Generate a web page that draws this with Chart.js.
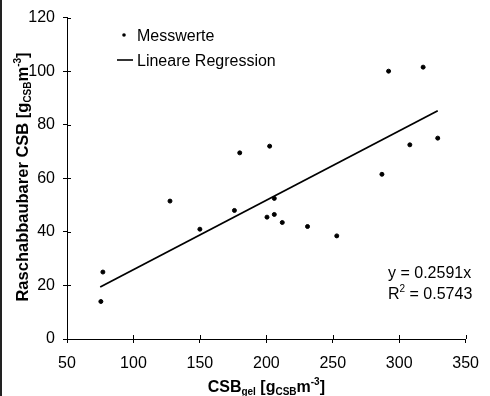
<!DOCTYPE html>
<html>
<head>
<meta charset="utf-8">
<script src="https://cdn.jsdelivr.net/npm/chart.js@4.4.1/dist/chart.umd.min.js"></script>
<style>
html,body{margin:0;padding:0;background:#fff;}
#wrap{position:relative;width:490px;height:396px;}
#c{position:absolute;left:0;top:0;}
#edge{position:absolute;left:0;top:0;width:2px;height:396px;background:#222;}
</style>
</head>
<body>
<div id="wrap"><canvas id="c" width="490" height="396"></canvas><div id="edge"></div></div>
<script>
// Data
const measX = [75.5, 77, 127.5, 150, 176, 180, 200.5, 202.5, 206, 206, 212, 231, 253, 287, 292, 308, 318, 329];
const measY = [14, 25, 51.5, 41, 48, 69.5, 45.5, 72, 46.5, 52.5, 43.5, 42, 38.5, 61.5, 100, 72.5, 101.5, 75];
const regX = [75, 329];
const regY = [19.4, 85.2];
const xTicks = [50, 100, 150, 200, 250, 300, 350];
const yTicks = [0, 20, 40, 60, 80, 100, 120];
const legendLabels = ['Messwerte', 'Lineare Regression'];
const equationLines = ['y = 0.2591x', 'R', '2', ' = 0.5743'];

const FONT = '"Liberation Sans", Arial, Helvetica, sans-serif';

function richWidth(ctx, segs, base, small, bold) {
  let w = 0;
  for (const s of segs) {
    ctx.font = (bold ? 'bold ' : '') + (s.k ? small : base) + 'px ' + FONT;
    w += ctx.measureText(s.t).width;
  }
  return w;
}
function drawRich(ctx, segs, x, y, base, small, bold) {
  let cx = x;
  for (const s of segs) {
    ctx.font = (bold ? 'bold ' : '') + (s.k ? small : base) + 'px ' + FONT;
    let dy = 0;
    if (s.k === 'sub') dy = 3;
    if (s.k === 'sup') dy = -7;
    ctx.fillText(s.t, cx, y + dy);
    cx += ctx.measureText(s.t).width;
  }
}

const overlay = {
  id: 'overlay',
  afterDraw(chart) {
    const ctx = chart.ctx;
    const xs = chart.scales.x, ys = chart.scales.y;
    const ca = chart.chartArea;
    ctx.save();
    ctx.strokeStyle = '#000';
    ctx.lineWidth = 1;
    // inner tick halves
    ctx.beginPath();
    xTicks.forEach(v => {
      const px = Math.round(xs.getPixelForValue(v)) + 0.5;
      ctx.moveTo(px, ca.bottom); ctx.lineTo(px, ca.bottom - 4);
    });
    yTicks.forEach(v => {
      const py = Math.round(ys.getPixelForValue(v)) + 0.5;
      ctx.moveTo(ca.left, py); ctx.lineTo(ca.left + 4, py);
    });
    ctx.stroke();

    ctx.fillStyle = '#000';
    ctx.textBaseline = 'alphabetic';
    ctx.textAlign = 'left';
    // legend
    ctx.beginPath();
    ctx.arc(124, 35, 1.8, 0, Math.PI * 2);
    ctx.fill();
    ctx.beginPath();
    ctx.lineWidth = 1.6;
    ctx.moveTo(117, 60); ctx.lineTo(133, 60);
    ctx.stroke();
    ctx.font = '16px ' + FONT;
    ctx.fillText(legendLabels[0], 137, 41);
    ctx.fillText(legendLabels[1], 137, 66);

    // equation
    ctx.fillText(equationLines[0], 388, 278);
    drawRich(ctx, [{t: equationLines[1]}, {t: equationLines[2], k: 'sup'}, {t: equationLines[3]}], 388, 299, 16, 10, false);

    // x title
    const xt = [{t: 'CSB'}, {t: 'gel', k: 'sub'}, {t: ' [g'}, {t: 'CSB', k: 'sub'}, {t: 'm'}, {t: '-3', k: 'sup'}, {t: ']'}];
    const xw = richWidth(ctx, xt, 16, 10, true);
    drawRich(ctx, xt, (ca.left + ca.right) / 2 - xw / 2, 392, 16, 10, true);

    // y title
    const yt = [{t: 'Raschabbaubarer CSB [g'}, {t: 'CSB', k: 'sub'}, {t: 'm'}, {t: '-3', k: 'sup'}, {t: ']'}];
    const yw = richWidth(ctx, yt, 16.5, 10, true);
    ctx.translate(28, 177);
    ctx.rotate(-Math.PI / 2);
    drawRich(ctx, yt, -yw / 2, 0, 16.5, 10, true);
    ctx.restore();
  }
};

new Chart(document.getElementById('c'), {
  type: 'scatter',
  data: {
    datasets: [
      {
        label: legendLabels[0],
        data: measX.map((x, i) => ({x: x, y: measY[i]})),
        backgroundColor: '#000',
        borderColor: '#000',
        pointRadius: 2,
        pointHoverRadius: 2,
        showLine: false
      },
      {
        label: legendLabels[1],
        data: regX.map((x, i) => ({x: x, y: regY[i]})),
        borderColor: '#000',
        borderWidth: 1.8,
        pointRadius: 0,
        showLine: true,
        fill: false
      }
    ]
  },
  options: {
    responsive: false,
    animation: false,
    events: [],
    layout: {padding: {left: 0, right: 18, top: 14, bottom: 0}},
    plugins: {legend: {display: false}, tooltip: {enabled: false}},
    scales: {
      x: {
        type: 'linear',
        min: 50, max: 350,
        afterBuildTicks: s => { s.ticks = xTicks.map(v => ({value: v})); },
        afterFit: s => { s.height = 396 - 339; },
        border: {color: '#000', width: 1},
        grid: {display: true, drawOnChartArea: false, tickLength: 4, color: '#000'},
        ticks: {color: '#000', font: {family: FONT, size: 16}, padding: 11, maxRotation: 0}
      },
      y: {
        type: 'linear',
        min: 0, max: 120,
        afterBuildTicks: s => { s.ticks = yTicks.map(v => ({value: v})); },
        afterFit: s => { s.width = 67; },
        border: {color: '#000', width: 1},
        grid: {display: true, drawOnChartArea: false, tickLength: 4, color: '#000'},
        ticks: {color: '#000', font: {family: FONT, size: 16}, padding: 8}
      }
    }
  },
  plugins: [overlay]
});
</script>
</body>
</html>
